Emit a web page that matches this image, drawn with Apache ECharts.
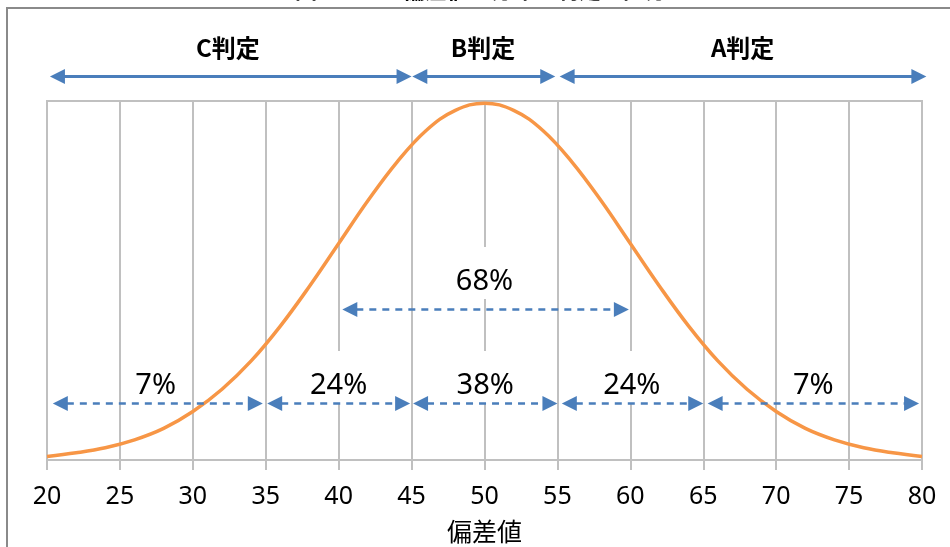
<!DOCTYPE html>
<html>
<head>
<meta charset="utf-8">
<script src="https://cdn.jsdelivr.net/npm/echarts@6/dist/echarts.min.js"></script>
<style>
  html, body { margin: 0; padding: 0; background: #fff; }
  #chart { width: 950px; height: 547px; }
</style>
</head>
<body>
<div id="chart"></div>
<script>
// Standard score (偏差値) axis and the bell curve heights, in % of the plot height
const xValues = [20, 22, 24, 26, 28, 30, 32, 34, 36, 38, 40, 42, 44, 46, 48, 50,
                 52, 54, 56, 58, 60, 62, 64, 66, 68, 70, 72, 74, 76, 78, 80];
const curveHeights = [1.0, 2.0, 3.4, 5.6, 8.8, 13.5, 19.7, 27.6, 37.3, 48.4, 60.3, 72.2, 83.0, 91.8, 97.4, 99.4,
                      97.4, 91.8, 83.0, 72.2, 60.3, 48.4, 37.3, 27.6, 19.7, 13.5, 8.8, 5.6, 3.4, 2.0, 1.0];
const xTickLabels = [20, 25, 30, 35, 40, 45, 50, 55, 60, 65, 70, 75, 80];

// Judgement bands along the top
const judgeNames = ['C判定', 'B判定', 'A判定'];
const judgeRanges = [[20.2, 45.0], [45.05, 54.85], [55.15, 80.3]];
const judgeLabelX = [32.4, 49.9, 67.7];

// Share of examinees per band
const shareLabels = ['7%', '24%', '38%', '24%', '7%'];
const shareRanges = [[20.4, 34.8], [35.1, 44.9], [45.1, 55.0], [55.3, 65.0], [65.3, 79.8]];
const shareLabelX = [27.45, 40.0, 50.05, 60.1, 72.55];

// ±1σ band
const centralLabel = '68%';
const centralRange = [40.25, 59.9];
const centralLabelX = 50.0;

const titleLead = '図１';
const titleText = '偏差値の分布と判定の区分';
const axisTitle = '偏差値';

const BLUE = '#4a7ebb';
const GRID = '#c0c0c0';
const LATIN = '"Noto Sans", "Noto Sans CJK JP", sans-serif';
const CJK = '"Noto Sans CJK JP", "Noto Sans", sans-serif';

const chart = echarts.init(document.getElementById('chart'), null, { renderer: 'canvas' });

chart.setOption({
  animation: false,
  backgroundColor: '#fff',
  grid: {
    left: 47, right: 28, top: 101, bottom: 87,
    outerBoundsMode: 'none', containLabel: false,
    show: true, borderColor: GRID, borderWidth: 2, backgroundColor: 'transparent'
  },
  xAxis: {
    type: 'value',
    min: xTickLabels[0],
    max: xTickLabels[xTickLabels.length - 1],
    interval: xTickLabels[1] - xTickLabels[0],
    axisLine: { lineStyle: { color: GRID, width: 2 } },
    axisTick: { show: true, length: 10, lineStyle: { color: GRID, width: 2 } },
    axisLabel: { color: '#000', fontSize: 25, fontFamily: LATIN, margin: 24 },
    splitLine: { show: true, lineStyle: { color: GRID, width: 2 } },
    name: axisTitle,
    nameLocation: 'middle',
    nameGap: 59,
    nameTextStyle: { color: '#000', fontSize: 25, fontFamily: CJK }
  },
  yAxis: { type: 'value', min: 0, max: 100, show: false },
  series: [{
    type: 'line',
    data: xValues.map((x, i) => [x, curveHeights[i]]),
    showSymbol: false,
    smooth: 0.4,
    lineStyle: { color: '#f79646', width: 3.5 },
    z: 3
  }]
});

// Annotation levels in the y-axis scale (0–100 is the plot height)
const LEVEL = { judgeText: 114.9, judgeArrow: 107.0, centralText: 49.6, centralArrow: 42.1, shareText: 20.6, shareArrow: 15.9 };

const toPx = (x, y) => chart.convertToPixel({ xAxisIndex: 0, yAxisIndex: 0 }, [x, y]);

function arrow(range, level, dashed) {
  const a = toPx(range[0], level);
  const b = toPx(range[1], level);
  const y = Math.round(a[1]) + 0.5;
  const head = 15;
  const hw = 7.5;
  return [
    {
      type: 'line', z: 20,
      shape: { x1: a[0] + head - 1, y1: y, x2: b[0] - head + 1, y2: y },
      style: dashed ? { stroke: BLUE, lineWidth: 2.5, lineDash: [7, 6] } : { stroke: BLUE, lineWidth: 3 }
    },
    { type: 'polygon', z: 21, shape: { points: [[a[0], y], [a[0] + head, y - hw], [a[0] + head, y + hw]] }, style: { fill: BLUE } },
    { type: 'polygon', z: 21, shape: { points: [[b[0], y], [b[0] - head, y - hw], [b[0] - head, y + hw]] }, style: { fill: BLUE } }
  ];
}

function label(text, xv, level, opts) {
  const p = toPx(xv, level);
  const els = [];
  if (opts.box) {
    els.push({
      type: 'rect', z: 15,
      shape: { x: p[0] - 28, y: p[1] - 35, width: 56, height: 52 },
      style: { fill: '#fff' }
    });
  }
  els.push({
    type: 'text', z: 22,
    style: {
      text: text, x: p[0], y: p[1], align: 'center', verticalAlign: 'middle',
      fill: '#000', fontSize: opts.size, fontWeight: opts.bold ? 'bold' : 'normal', fontFamily: opts.family
    }
  });
  return els;
}

const elements = [];

// Outer frame and the title running off the top edge
elements.push({ type: 'rect', z: 1, shape: { x: 7, y: 8, width: 1000, height: 600 }, style: { fill: 'none', stroke: '#8a8a8a', lineWidth: 2 } });
elements.push({ type: 'text', z: 1, style: { text: titleLead, x: 295, y: 1, align: 'left', verticalAlign: 'bottom', fill: '#000', fontSize: 22, fontWeight: 'bold', fontFamily: CJK } });
elements.push({ type: 'text', z: 1, style: { text: titleText, x: 403, y: 1, align: 'left', verticalAlign: 'bottom', fill: '#000', fontSize: 22, fontWeight: 'bold', fontFamily: CJK } });

judgeNames.forEach((name, i) => {
  elements.push(...arrow(judgeRanges[i], LEVEL.judgeArrow, false));
  elements.push(...label(name, judgeLabelX[i], LEVEL.judgeText, { size: 24, bold: true, family: CJK }));
});

elements.push(...label(centralLabel, centralLabelX, LEVEL.centralText, { size: 29, family: LATIN, box: true }));
elements.push(...arrow(centralRange, LEVEL.centralArrow, true));

shareLabels.forEach((t, i) => {
  elements.push(...label(t, shareLabelX[i], LEVEL.shareText, { size: 29, family: LATIN, box: true }));
  elements.push(...arrow(shareRanges[i], LEVEL.shareArrow, true));
});

chart.setOption({ graphic: { elements: elements } });
</script>
</body>
</html>
